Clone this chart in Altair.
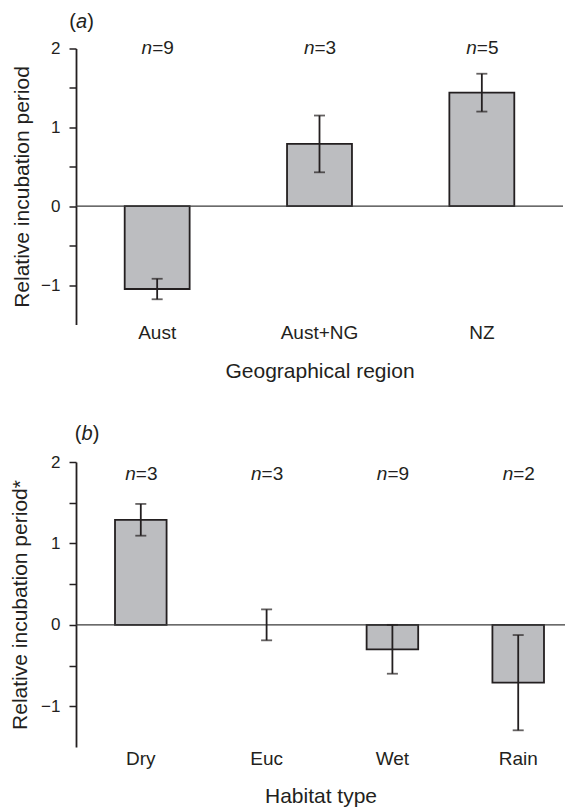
import altair as alt
import pandas as pd

# ---- data ----
regions = ["Aust", "Aust+NG", "NZ"]
region_mean = [-1.05, 0.79, 1.44]
region_err = [0.13, 0.36, 0.24]
region_n = [9, 3, 5]

habitats = ["Dry", "Euc", "Wet", "Rain"]
habitat_mean = [1.29, 0.0, -0.30, -0.71]
habitat_err = [0.195, 0.19, 0.30, 0.585]
habitat_n = [3, 3, 9, 2]

y_ticks = [-1, -0.5, 0, 0.5, 1, 1.5, 2]

FONT = "Liberation Sans"
INK = "#231f20"
FILL = "#bcbdc0"


def make_panel(cats, means, errs, ns, width, height, p_in, p_out, align,
               x_title, y_title, letter, n_y, lab_pad, title_y, title_x,
               letter_x, letter_y):
    df = pd.DataFrame({"cat": cats, "mean": means, "err": errs, "n": ns})
    base = alt.Chart(df).transform_calculate(
        lo="datum.mean - datum.err",
        hi="datum.mean + datum.err",
        ntxt="'=' + datum.n",
    )

    xaxis = alt.Axis(domain=False, ticks=False, tickSize=0, labelAngle=0,
                     labelPadding=lab_pad, labelBaseline="alphabetic",
                     labelFontSize=19, labelColor=INK, title=x_title,
                     titleFontSize=21, titleFontWeight="normal",
                     titleColor=INK, titleBaseline="alphabetic",
                     titleY=title_y)
    xscale = alt.Scale(domain=cats, paddingInner=p_in, paddingOuter=p_out,
                       align=align)

    yaxis = alt.Axis(values=y_ticks, format="~g",
                     labelExpr="datum.value % 1 == 0 ? datum.label : ''",
                     tickSize=7, tickWidth=1.5, tickColor=INK,
                     domainColor=INK, domainWidth=1.8, labelPadding=9,
                     labelFontSize=17, labelColor=INK, title=y_title,
                     titleFontSize=21, titleFontWeight="normal",
                     titleColor=INK, titleBaseline="alphabetic",
                     titleX=title_x, titleAngle=270, grid=False)
    yscale = alt.Scale(domain=[-1.5, 2], nice=False, zero=False)

    def xe():
        return alt.X("cat:N", sort=cats, scale=xscale, axis=xaxis)

    def ye(field):
        return alt.Y(field, scale=yscale, axis=yaxis)

    bars = base.transform_filter("datum.mean != 0").mark_bar(
        fill=FILL, stroke=INK, strokeWidth=1.8
    ).encode(x=xe(), y=ye("mean:Q"), y2=alt.datum(0))

    zero = alt.Chart(pd.DataFrame({"z": [0]})).mark_rule(
        color="#3a3a3a", strokeWidth=1.2
    ).encode(y=ye("z:Q"))

    err_line = base.mark_rule(color=INK, strokeWidth=1.8).encode(
        x=xe(), y=ye("lo:Q"), y2="hi:Q")
    cap_lo = base.mark_tick(color=INK, thickness=1.8, size=11).encode(
        x=xe(), y=ye("lo:Q"))
    cap_hi = base.mark_tick(color=INK, thickness=1.8, size=11).encode(
        x=xe(), y=ye("hi:Q"))

    n_it = base.mark_text(font=FONT, fontSize=19, fontStyle="italic",
                          align="right", baseline="alphabetic", dx=-5,
                          color=INK).encode(
        x=xe(), y=alt.value(n_y), text=alt.value("n"))
    n_val = base.mark_text(font=FONT, fontSize=19, align="left",
                           baseline="alphabetic", dx=-5, color=INK).encode(
        x=xe(), y=alt.value(n_y), text="ntxt:N")

    one = pd.DataFrame({"k": [0]})
    lp = alt.Chart(one).mark_text(text="(", font=FONT, fontSize=20,
                                  align="left", baseline="alphabetic",
                                  color=INK).encode(
        x=alt.value(letter_x), y=alt.value(letter_y))
    lt = alt.Chart(one).mark_text(text=letter, font=FONT, fontSize=20,
                                  fontStyle="italic", align="left",
                                  baseline="alphabetic", color=INK).encode(
        x=alt.value(letter_x + 6.7), y=alt.value(letter_y))
    rp = alt.Chart(one).mark_text(text=")", font=FONT, fontSize=20,
                                  align="left", baseline="alphabetic",
                                  color=INK).encode(
        x=alt.value(letter_x + 18.0), y=alt.value(letter_y))

    return alt.layer(bars, zero, err_line, cap_lo, cap_hi, n_it, n_val,
                     lp, lt, rp).properties(width=width, height=height)


panel_a = make_panel(regions, region_mean, region_err, region_n,
                     487, 276, 0.6, 0.3, 0.5,
                     "Geographical region", "Relative incubation period", "a",
                     5.5, 13.7, 52.7, -48, -6.7, -20.2)
panel_b = make_panel(habitats, habitat_mean, habitat_err, habitat_n,
                     489, 285, 0.59, 0.2385, 0.65,
                     "Habitat type", "Relative incubation period*", "b",
                     18.3, 17.3, 55.3, -50, -1.2, -22.4)

chart = alt.vconcat(panel_a, panel_b, spacing=41.5).properties(
    padding={"left": 0, "top": 3.5, "right": 0, "bottom": 0},
).configure(font=FONT).configure_view(strokeWidth=0)

chart.save("out.html", embed_options={"renderer": "svg", "actions": False})
